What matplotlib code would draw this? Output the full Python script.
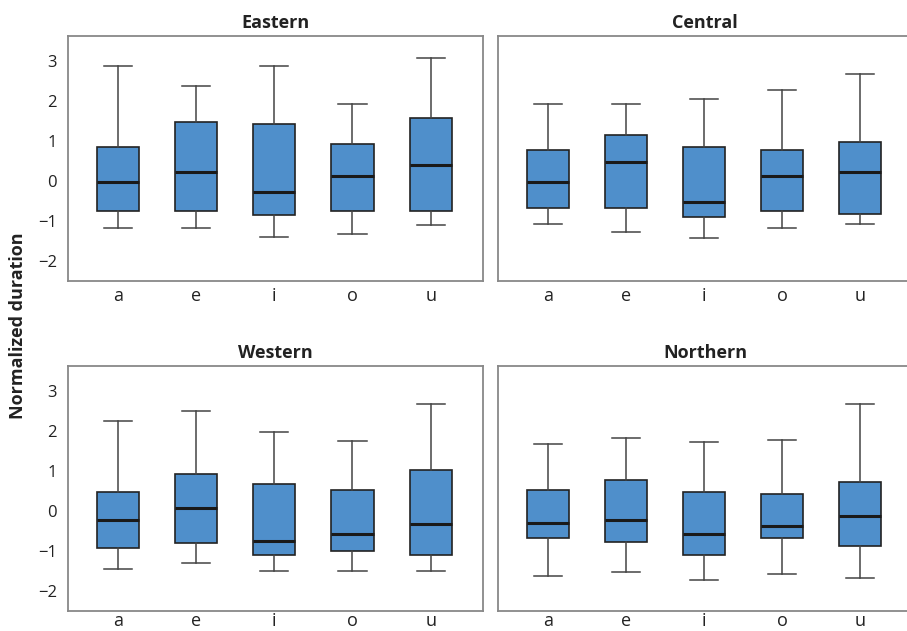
import matplotlib
matplotlib.use("Agg")
import matplotlib.pyplot as plt

plt.rcParams['font.family'] = ['Open Sans', 'DejaVu Sans']

vowels = ['a', 'e', 'i', 'o', 'u']
regions = ['Eastern', 'Central', 'Western', 'Northern']

# five-number summaries per region, per vowel (a, e, i, o, u)
eastern_low = [-1.18, -1.18, -1.40, -1.33, -1.10]
eastern_q1 = [-0.74, -0.74, -0.85, -0.74, -0.74]
eastern_med = [-0.03, 0.22, -0.26, 0.12, 0.40]
eastern_q3 = [0.85, 1.49, 1.44, 0.93, 1.59]
eastern_high = [2.87, 2.37, 2.87, 1.92, 3.07]

central_low = [-1.07, -1.27, -1.41, -1.18, -1.07]
central_q1 = [-0.68, -0.68, -0.90, -0.74, -0.82]
central_med = [-0.03, 0.49, -0.52, 0.14, 0.24]
central_q3 = [0.78, 1.16, 0.85, 0.78, 0.98]
central_high = [1.92, 1.92, 2.06, 2.27, 2.67]

western_low = [-1.44, -1.29, -1.50, -1.50, -1.50]
western_q1 = [-0.92, -0.79, -1.10, -1.00, -1.10]
western_med = [-0.22, 0.07, -0.75, -0.58, -0.31]
western_q3 = [0.47, 0.94, 0.69, 0.52, 1.04]
western_high = [2.25, 2.50, 1.99, 1.76, 2.68]

northern_low = [-1.61, -1.52, -1.73, -1.56, -1.68]
northern_q1 = [-0.67, -0.77, -1.10, -0.67, -0.87]
northern_med = [-0.29, -0.23, -0.56, -0.37, -0.11]
northern_q3 = [0.52, 0.79, 0.47, 0.42, 0.73]
northern_high = [1.67, 1.82, 1.74, 1.77, 2.69]

data = {
    'Eastern': (eastern_low, eastern_q1, eastern_med, eastern_q3, eastern_high),
    'Central': (central_low, central_q1, central_med, central_q3, central_high),
    'Western': (western_low, western_q1, western_med, western_q3, western_high),
    'Northern': (northern_low, northern_q1, northern_med, northern_q3, northern_high),
}

W, H = 907, 631
fig = plt.figure(figsize=(W / 100, H / 100), dpi=100)

pw, ph = 415, 244.5
positions = {
    'Eastern': (68, 36),
    'Central': (497.7, 36),
    'Western': (68, 366),
    'Northern': (497.7, 366),
}

box_color = '#4F8FCB'
for reg in regions:
    x0, y0 = positions[reg]
    ax = fig.add_axes([x0 / W, 1 - (y0 + ph) / H, pw / W, ph / H])
    low, q1, med, q3, high = data[reg]
    stats = []
    for k, v in enumerate(vowels):
        stats.append(dict(label=v, whislo=low[k], q1=q1[k], med=med[k],
                          q3=q3[k], whishi=high[k], fliers=[]))
    ax.bxp(stats, positions=range(1, 6), widths=0.54, capwidths=0.36,
           patch_artist=True, showfliers=False,
           boxprops=dict(facecolor=box_color, edgecolor='#222222', linewidth=1.2),
           medianprops=dict(color='#1a1a1a', linewidth=2.2),
           whiskerprops=dict(color='#444444', linewidth=1.1),
           capprops=dict(color='#444444', linewidth=1.1))
    ax.set_xlim(0.36, 5.67)
    ax.set_ylim(-2.48, 3.63)
    ax.set_yticks([-2, -1, 0, 1, 2, 3])
    ax.set_xticks(range(1, 6))
    ax.set_xticklabels(vowels, fontsize=13, color='#222222')
    if reg in ('Eastern', 'Western'):
        ax.set_yticklabels(['−2', '−1', '0', '1', '2', '3'], fontsize=12, color='#222222')
    else:
        ax.set_yticklabels([])
    ax.tick_params(axis='both', length=0)
    ax.tick_params(axis='y', pad=8)
    if reg in ('Western', 'Northern'):
        ax.tick_params(axis='x', pad=1)
    else:
        ax.tick_params(axis='x', pad=5)
    for s in ax.spines.values():
        s.set_color('#888888')
        s.set_linewidth(1.3)
    ax.set_title(reg, fontsize=13, fontweight='bold', color='#222222', pad=6)

fig.text(18 / W, 1 - 326 / H, 'Normalized duration', rotation=90, fontsize=13,
         fontweight='bold', color='#222222', ha='center', va='center')

fig.savefig('out.png', dpi=100)
